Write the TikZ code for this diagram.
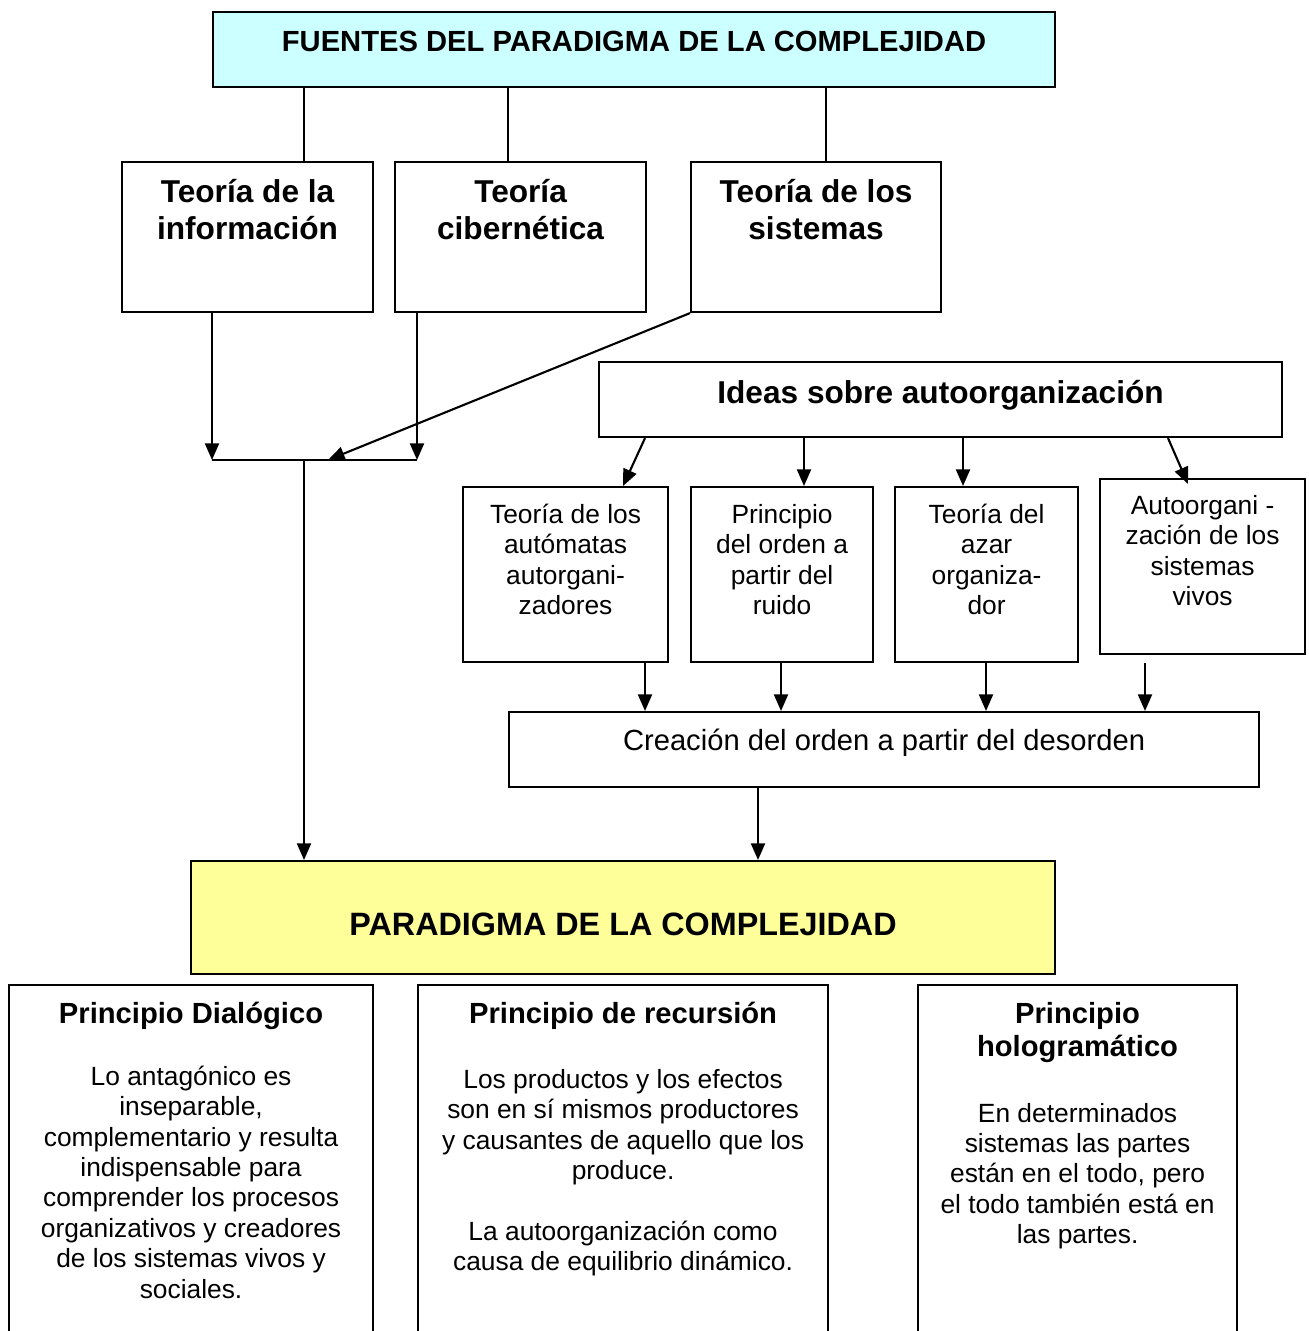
\documentclass[tikz,border=0pt]{standalone}
\usepackage{fontspec}
\setmainfont{Liberation Sans}
\usepackage{tikz}
\usetikzlibrary{arrows.meta}
\usetikzlibrary{calc}
\usetikzlibrary{positioning}
\definecolor{celeste}{HTML}{CCFFFF}
\definecolor{amarillo}{HTML}{FFFF99}
\newlength{\px}
\setlength{\px}{0.02cm}
\newcommand{\chico}{\fontsize{15}{17.3}\selectfont}
\newcommand{\medio}{\fontsize{16.6}{18.7}\selectfont}
\newcommand{\grande}{\fontsize{18}{21.5}\selectfont}
% caja: ancho, alto, linea base de la primera linea (px), texto
\newcommand{\caja}[4]{\parbox[c][#2\px][t]{#1\px}{\centering\vspace*{\dimexpr#3\px-17pt\relax}\rule{0pt}{17pt}#4\par}}
\tikzset{every picture/.style={line width=1.2pt},
  bloque/.style={draw, rectangle, inner sep=0pt, anchor=north west},
  flecha/.style={-{Triangle[length=9.5pt,width=8pt]}}}

\begin{document}
\begin{tikzpicture}[x=0.02cm,y=-0.02cm]
\useasboundingbox (0,0) rectangle (1308,1331);
\node[bloque, fill=celeste] (fuentes) at (212,11) {\caja{842}{75}{39.5}{\medio\bfseries FUENTES DEL PARADIGMA DE LA COMPLEJIDAD}};
\node[bloque] (info) at (121,161) {\caja{251}{150}{40}{\grande\bfseries Teoría de la\\información}};
\node[bloque] (ciber) at (394,161) {\caja{251}{150}{40}{\grande\bfseries Teoría\\cibernética}};
\node[bloque] (sistemas) at (690,161) {\caja{250}{150}{40}{\grande\bfseries Teoría de los\\sistemas}};
\node[bloque] (ideas) at (598,361) {\caja{683}{75}{41}{\grande\bfseries Ideas sobre autoorganización}};
\node[bloque] (automatas) at (462,486) {\caja{205}{175}{36.5}{\chico Teoría de los\\autómatas\\autorgani-\\zadores}};
\node[bloque] (ruido) at (690,486) {\caja{182}{175}{36.5}{\chico Principio\\del orden a\\partir del\\ruido}};
\node[bloque] (azar) at (894,486) {\caja{183}{175}{36.5}{\chico Teoría del\\azar\\organiza-\\dor}};
\node[bloque] (vivos) at (1099,478) {\caja{205}{175}{35.5}{\chico Autoorgani -\\zación de los\\sistemas\\vivos}};
\node[bloque] (creacion) at (508,711) {\caja{750}{75}{38.5}{\medio Creación del orden a partir del desorden}};
\node[bloque, fill=amarillo] (paradigma) at (190,860) {\caja{864}{113}{74.5}{\fontsize{18.4}{21.5}\selectfont\bfseries PARADIGMA DE LA COMPLEJIDAD}};
\node[bloque] (dialogico) at (8,984) {\caja{364}{361}{38.5}{\medio\bfseries Principio Dialógico\par
  \vspace{17.9pt}\chico\mdseries Lo antagónico es\\inseparable,\\complementario y resulta\\indispensable para\\comprender los procesos\\organizativos y creadores\\de los sistemas vivos y\\sociales.}};
\node[bloque] (recursion) at (417,984) {\caja{410}{361}{38.5}{\medio\bfseries Principio de recursión\par
  \vspace{19.6pt}\chico\mdseries Los productos y los efectos\\son en sí mismos productores\\y causantes de aquello que los\\produce.\par
  \vspace{17.3pt}La autoorganización como\\causa de equilibrio dinámico.}};
\node[bloque] (holo) at (917,984) {\caja{319}{361}{38.5}{\medio\bfseries Principio\\hologramático\par
  \vspace{20.1pt}\chico\mdseries En determinados\\sistemas las partes\\están en el todo, pero\\el todo también está en\\las partes.}};
% fuentes
\draw (fuentes.south -| 304,0) -- (304,0 |- info.north);
\draw (fuentes.south -| 508,0) -- (508,0 |- ciber.north);
\draw (fuentes.south -| 826,0) -- (826,0 |- sistemas.north);
% union de las tres teorias
\coordinate (uizq) at (212,460);
\coordinate (uder) at (417,460);
\coordinate (ucen) at (328,460);
\coordinate (union) at (304,460);
\draw[flecha] (info.south -| uizq) -- (uizq);
\draw[flecha] (ciber.south -| uder) -- (uder);
\draw[flecha] (sistemas.south west) -- (ucen);
\draw (uizq) -- (uder);
\draw[flecha] (union) -- (union |- paradigma.north);
% ideas sobre autoorganizacion
\draw[flecha] (ideas.south -| 645,0) -- (623,0 |- automatas.north);
\draw[flecha] (ideas.south -| 804,0) -- (804,0 |- ruido.north);
\draw[flecha] (ideas.south -| 963,0) -- (963,0 |- azar.north);
\draw[flecha] (ideas.south -| 1168,0) -- ($(1188,0 |- vivos.north)+(0,6)$);
\draw[flecha] (automatas.south -| 645,0) -- (645,0 |- creacion.north);
\draw[flecha] (ruido.south -| 781,0) -- (781,0 |- creacion.north);
\draw[flecha] (azar.south -| 986,0) -- (986,0 |- creacion.north);
\draw[flecha] ($(vivos.south -| 1145,0)+(0,8)$) -- (1145,0 |- creacion.north);
\draw[flecha] (creacion.south -| 758,0) -- (758,0 |- paradigma.north);
\end{tikzpicture}
\end{document}
